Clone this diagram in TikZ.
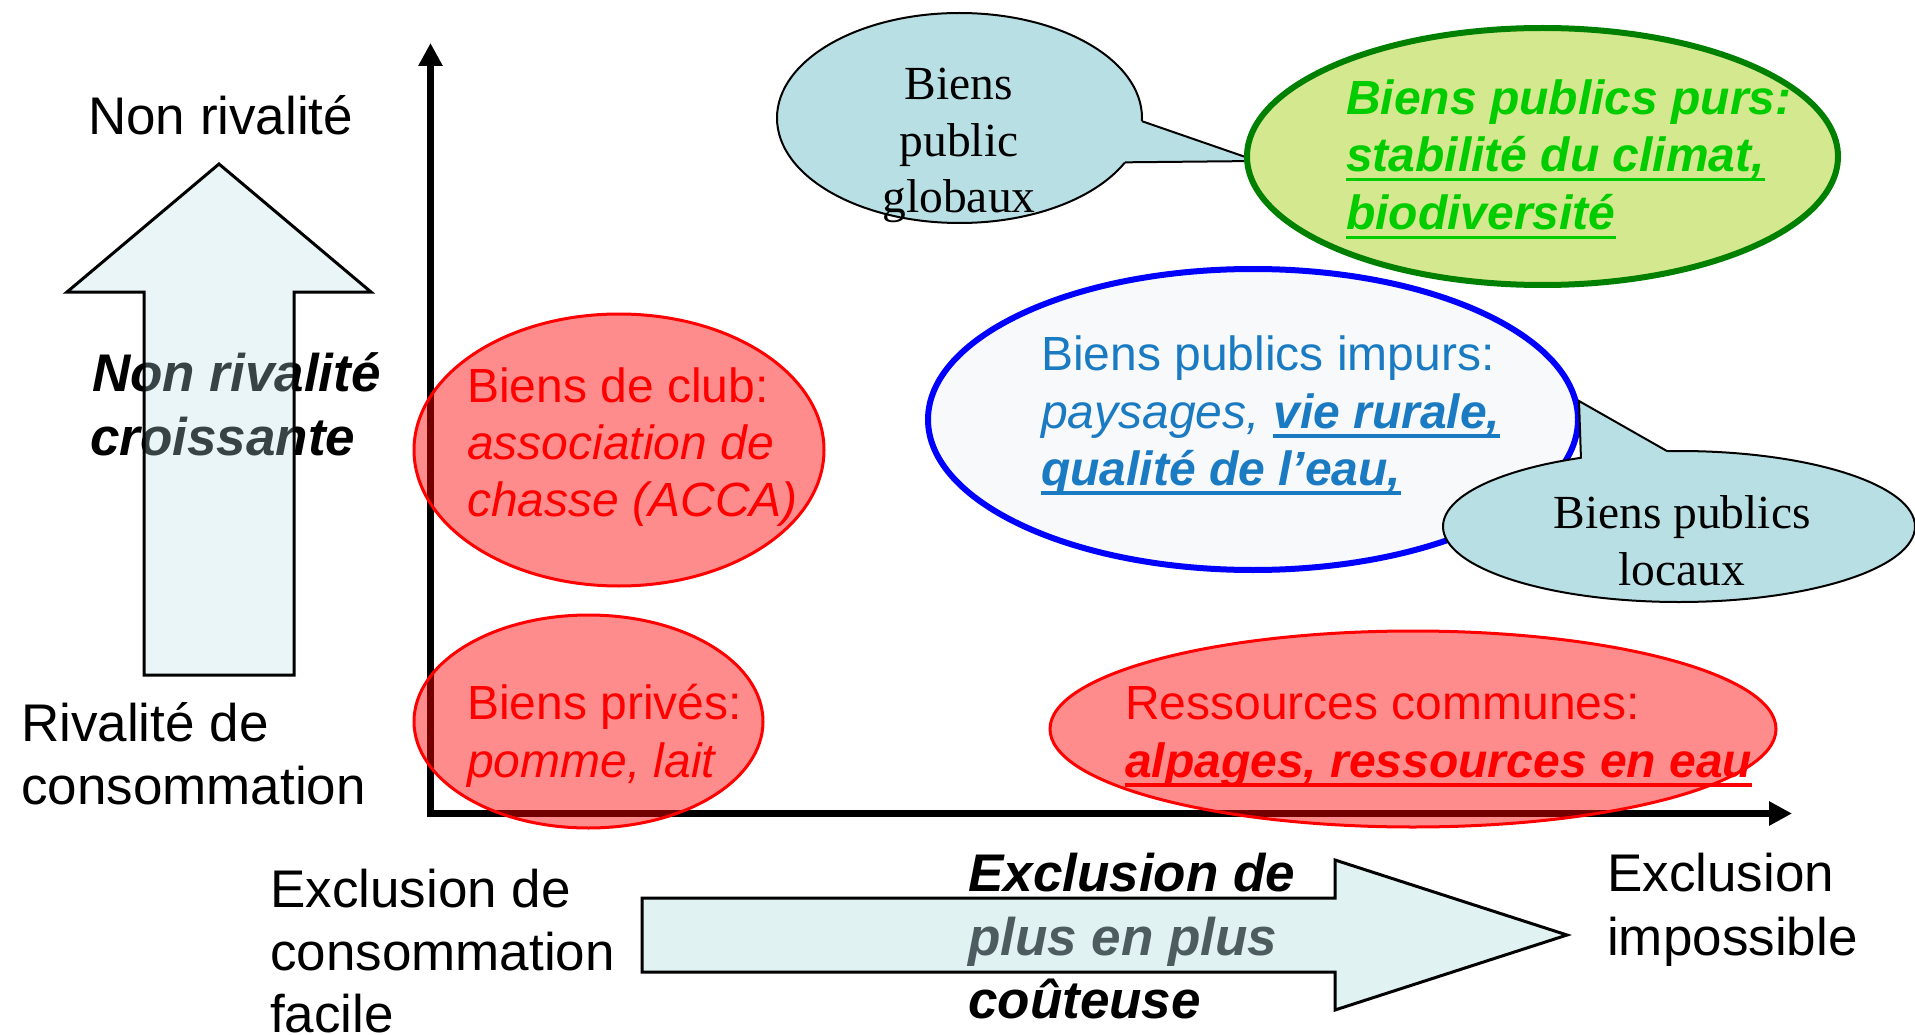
\documentclass[tikz,border=0pt]{standalone}
\usepackage{fontspec}
\setmainfont{Liberation Sans}
\newfontfamily\tnr{Liberation Serif}
\usetikzlibrary{shapes.geometric,arrows.meta,calc}
\definecolor{bubblefill}{RGB}{184,223,227}
\definecolor{greenfill}{RGB}{212,232,143}
\definecolor{greenline}{RGB}{0,128,0}
\definecolor{greentext}{RGB}{0,204,0}
\definecolor{bluetext}{RGB}{26,122,194}
\definecolor{bluefill}{RGB}{247,249,250}
\definecolor{blueline}{RGB}{0,0,255}
\newcommand{\ulbox}[1]{\setbox0=\hbox{#1}\rlap{\rule[-9.5pt]{\wd0}{3.5pt}}\box0}
\begin{document}
\begin{tikzpicture}[x=1pt,y=-1pt,
  big/.style={font=\fontsize{53}{64}\selectfont, inner sep=0pt, anchor=base west},
  mid/.style={font=\fontsize{48}{58}\selectfont, inner sep=0pt, anchor=base west},
  ser/.style={font=\tnr\fontsize{47.5}{57}\selectfont, inner sep=0pt, anchor=base},
  oval/.style={ellipse, inner sep=0pt, outer sep=0pt},
  redoval/.style={oval, draw=red, line width=3pt, fill=red, fill opacity=0.45},
  bubble/.style={oval, draw=black, line width=2pt, fill=bubblefill},
  arrowbox/.style={draw=black, line width=3pt, fill=bubblefill, line join=miter},
  axis/.style={line width=7pt, {Triangle[length=23pt,width=23pt]}-{Triangle[length=23pt,width=23pt]}}
]
\useasboundingbox (0,0) rectangle (1915,1035);

% left labels
\node[big] (nonriv) at (88,135) {Non rivalité};
\node[big] (rivA) at (21,741) {Rivalité de};
\node[big] (rivB) at (21,804) {consommation};
\node[big] (exclA) at (270,907) {Exclusion de};
\node[big] (exclB) at (270,970) {consommation};
\node[big] (exclC) at (270,1032) {facile};
\node[big] (imposA) at (1607,891) {Exclusion};
\node[big] (imposB) at (1607,955) {impossible};

% texts under the big arrows
\node[big, font=\fontsize{53}{64}\selectfont\bfseries\itshape] (croisA) at (92,391) {Non rivalité};
\node[big, font=\fontsize{53}{64}\selectfont\bfseries\itshape] (croisB) at (90,455) {croissante};
\node[big, font=\fontsize{53}{64}\selectfont\bfseries\itshape] (coutA) at (968,891) {Exclusion de};
\node[big, font=\fontsize{53}{64}\selectfont\bfseries\itshape] (coutB) at (968,955) {plus en plus};
\node[big, font=\fontsize{53}{64}\selectfont\bfseries\itshape] (coutC) at (968,1018) {coûteuse};

% big arrows
\draw[arrowbox, fill opacity=0.3] (219,164) -- (371,292) -- (294,292) -- (294,675) -- (144,675) -- (144,292) -- (67,292) -- cycle;
\draw[arrowbox, fill opacity=0.42] (642,898) -- (1335,898) -- (1335,860) -- (1567,935) -- (1335,1010) -- (1335,972) -- (642,972) -- cycle;

% axes
\coordinate (axtop) at (430.5,43);
\coordinate (origin) at (430.5,813.5);
\coordinate (axend) at (1792,813.5);
\draw[axis] (axtop) -- (origin) -- (axend);

% red ovals
\node[redoval, minimum width=410, minimum height=272] (club) at (619,450) {};
\node[redoval, minimum width=349, minimum height=213] (prive) at (588.5,721.5) {};
\node[redoval, minimum width=726, minimum height=196] (commun) at (1413,729) {};
\node[mid, red] (clubA) at (467,402) {Biens de club:};
\node[mid, red, font=\fontsize{48}{58}\selectfont\itshape] (clubB) at (467,459) {association de};
\node[mid, red, font=\fontsize{48}{58}\selectfont\itshape] (clubC) at (467,516) {chasse (ACCA)};
\node[mid, red] (priveA) at (467,719) {Biens privés:};
\node[mid, red, font=\fontsize{48}{58}\selectfont\itshape] (priveB) at (467,777) {pomme, lait};
\node[mid, red] (communA) at (1125,719) {Ressources communes:};
\node[mid, red, font=\fontsize{48}{58}\selectfont\bfseries\itshape] (communB) at (1125,777) {\ulbox{alpages, ressources en eau}};

% impure public goods
\node[oval, draw=blueline, line width=6pt, fill=bluefill, minimum width=650, minimum height=301] (impur) at (1253,419.5) {};
\node[mid, bluetext] (impurA) at (1041,370) {Biens publics impurs:};
\node[mid, bluetext, font=\fontsize{48}{58}\selectfont\itshape] (impurB) at (1041,428) {paysages, \textbf{\ulbox{vie rurale,}}};
\node[mid, bluetext, font=\fontsize{48}{58}\selectfont\bfseries\itshape] (impurC) at (1041,485) {\ulbox{qualité de l’eau,}};

% local bubble
\node[bubble, minimum width=472, minimum height=151] (local) at (1679,526.5) {};
\coordinate (localtip) at (1579,401);
\fill[bubblefill] (localtip) -- (local.145.6) -- (local.center) -- (local.99) -- cycle;
\draw[line width=2pt, line join=miter] (local.145.6) -- (localtip) -- (local.99);
\node[ser] (localA) at (1682,528) {Biens publics};
\node[ser] (localB) at (1682,585) {locaux};

% global bubble
\node[bubble, minimum width=365, minimum height=210] (global) at (959.5,118) {};
\coordinate (globaltip) at (1257,161);
\fill[bubblefill] (globaltip) -- (global.-1.6) -- (global.center) -- (global.-15.3) -- cycle;
\draw[line width=2pt, line join=miter] (global.-1.6) -- (globaltip) -- (global.-15.3);
\node[ser] (globalA) at (959,100) {Biens};
\node[ser] (globalB) at (959,157) {public};
\node[ser] (globalC) at (959,213) {globaux};

% pure public goods
\node[oval, draw=greenline, line width=6pt, fill=greenfill, minimum width=591, minimum height=257] (pur) at (1542.5,156.5) {};
\node[mid, greentext, font=\fontsize{48}{58}\selectfont\bfseries\itshape] (purA) at (1346,115) {Biens publics purs:};
\node[mid, greentext, font=\fontsize{48}{58}\selectfont\bfseries\itshape] (purB) at (1346,172) {\ulbox{stabilité du climat,}};
\node[mid, greentext, font=\fontsize{48}{58}\selectfont\bfseries\itshape] (purC) at (1346,230) {\ulbox{biodiversité}};
\end{tikzpicture}
\end{document}
